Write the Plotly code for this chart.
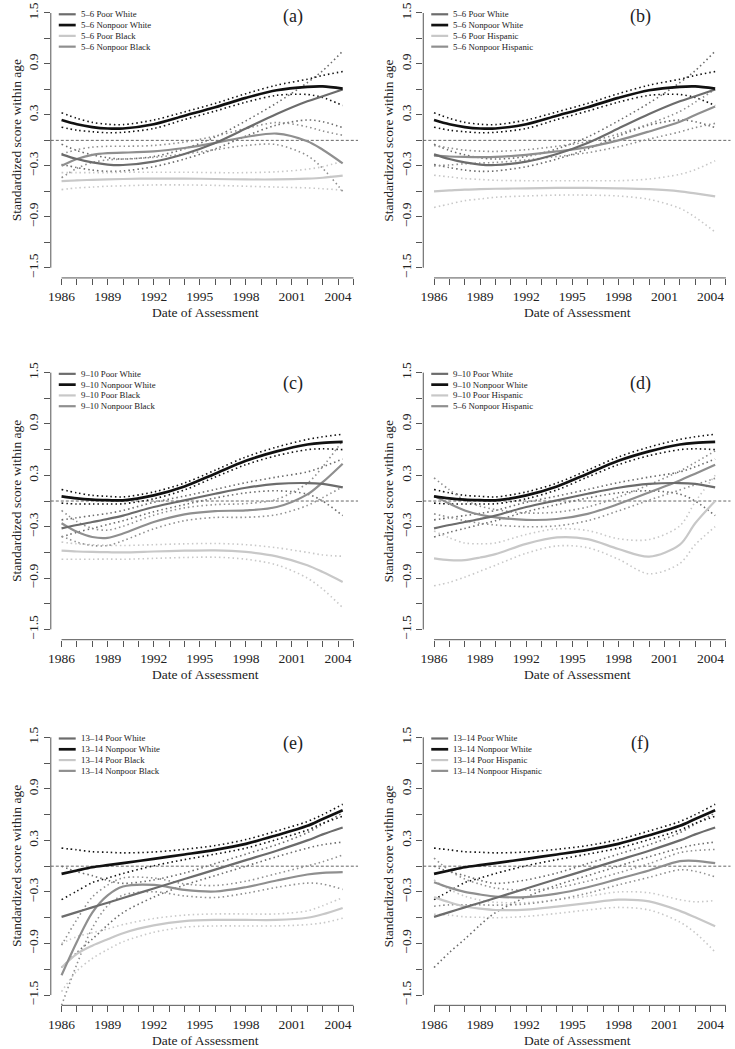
import plotly.graph_objects as go

# ---------------- data ----------------
YEARS = [1986, 1987, 1988, 1989, 1990, 1992, 1994, 1996, 1998, 2000, 2002, 2003, 2004.3]

# Ages 5-6
pw_56 = [-0.165, -0.22, -0.26, -0.285, -0.29, -0.25, -0.16, -0.03, 0.14, 0.31, 0.46, 0.52, 0.60]
pw_56_ci = [0.12, 0.10, 0.09, 0.08, 0.07, 0.06, 0.06, 0.07, 0.09, 0.13, 0.22, 0.30, 0.45]
nw_56 = [0.24, 0.19, 0.157, 0.14, 0.14, 0.19, 0.29, 0.39, 0.50, 0.59, 0.63, 0.635, 0.61]
nw_56_ci = [0.085, 0.07, 0.055, 0.05, 0.045, 0.05, 0.045, 0.045, 0.05, 0.06, 0.09, 0.13, 0.20]
pb_56 = [-0.48, -0.47, -0.465, -0.46, -0.455, -0.45, -0.45, -0.455, -0.46, -0.46, -0.45, -0.44, -0.415]
pb_56_ci = [0.10, 0.09, 0.085, 0.08, 0.08, 0.075, 0.075, 0.075, 0.08, 0.09, 0.11, 0.13, 0.17]
nb_56 = [-0.30, -0.22, -0.17, -0.15, -0.145, -0.13, -0.09, -0.03, 0.04, 0.08, -0.01, -0.11, -0.27]
nb_56_ci = [0.14, 0.11, 0.09, 0.08, 0.075, 0.07, 0.07, 0.08, 0.10, 0.13, 0.17, 0.22, 0.33]
ph_56 = [-0.60, -0.59, -0.58, -0.575, -0.57, -0.565, -0.56, -0.56, -0.565, -0.575, -0.60, -0.625, -0.66]
ph_56_ci = [0.19, 0.16, 0.13, 0.115, 0.10, 0.09, 0.085, 0.085, 0.09, 0.12, 0.20, 0.28, 0.42]
nh_56 = [-0.18, -0.19, -0.195, -0.197, -0.195, -0.17, -0.13, -0.08, 0.0, 0.105, 0.22, 0.30, 0.40]
nh_56_ci = [0.12, 0.10, 0.08, 0.07, 0.065, 0.06, 0.06, 0.065, 0.075, 0.09, 0.12, 0.15, 0.20]

# Ages 9-10
pw_910 = [-0.32, -0.28, -0.245, -0.21, -0.17, -0.07, 0.008, 0.085, 0.155, 0.20, 0.21, 0.20, 0.16]
pw_910_ci = [0.10, 0.085, 0.075, 0.065, 0.06, 0.055, 0.05, 0.05, 0.06, 0.08, 0.13, 0.20, 0.33]
nw_910 = [0.055, 0.03, 0.016, 0.01, 0.008, 0.066, 0.17, 0.32, 0.47, 0.58, 0.66, 0.68, 0.69]
nw_910_ci = [0.08, 0.065, 0.05, 0.045, 0.04, 0.04, 0.04, 0.04, 0.045, 0.05, 0.06, 0.07, 0.09]
pb_910 = [-0.58, -0.59, -0.595, -0.598, -0.60, -0.59, -0.58, -0.576, -0.595, -0.646, -0.75, -0.83, -0.945]
pb_910_ci = [0.10, 0.09, 0.085, 0.08, 0.08, 0.08, 0.08, 0.08, 0.085, 0.10, 0.15, 0.20, 0.30]
nb_910 = [-0.26, -0.36, -0.42, -0.43, -0.38, -0.245, -0.155, -0.117, -0.11, -0.07, 0.078, 0.22, 0.436]
nb_910_ci = [0.15, 0.12, 0.10, 0.09, 0.085, 0.08, 0.075, 0.075, 0.08, 0.09, 0.13, 0.18, 0.27]
ph_910 = [-0.67, -0.69, -0.69, -0.66, -0.62, -0.50, -0.425, -0.445, -0.56, -0.65, -0.51, -0.26, 0.0]
ph_910_ci = [0.32, 0.26, 0.20, 0.16, 0.13, 0.11, 0.10, 0.10, 0.12, 0.20, 0.22, 0.25, 0.30]
nh_910 = [0.06, -0.03, -0.11, -0.16, -0.19, -0.22, -0.21, -0.15, -0.035, 0.10, 0.24, 0.32, 0.425]
nh_910_ci = [0.21, 0.16, 0.12, 0.10, 0.09, 0.08, 0.08, 0.08, 0.08, 0.09, 0.11, 0.13, 0.16]

# Ages 13-14
pw_1314 = [-0.59, -0.535, -0.48, -0.425, -0.37, -0.26, -0.15, -0.04, 0.07, 0.18, 0.30, 0.37, 0.45]
pw_1314_ci = [0.59, 0.47, 0.37, 0.26, 0.17, 0.10, 0.07, 0.07, 0.07, 0.07, 0.09, 0.12, 0.17]
nw_1314 = [-0.09, -0.05, -0.012, 0.012, 0.035, 0.085, 0.136, 0.19, 0.26, 0.36, 0.47, 0.55, 0.65]
nw_1314_ci = [0.30, 0.24, 0.18, 0.15, 0.12, 0.08, 0.06, 0.05, 0.05, 0.05, 0.05, 0.05, 0.07]
pb_1314 = [-1.18, -1.02, -0.925, -0.85, -0.78, -0.69, -0.64, -0.626, -0.626, -0.626, -0.60, -0.56, -0.486]
pb_1314_ci = [0.28, 0.20, 0.15, 0.12, 0.10, 0.08, 0.07, 0.07, 0.07, 0.07, 0.08, 0.10, 0.12]
nb_1314 = [-1.27, -0.88, -0.54, -0.34, -0.237, -0.218, -0.276, -0.295, -0.245, -0.167, -0.097, -0.078, -0.07]
nb_1314_ci = [0.35, 0.26, 0.18, 0.12, 0.10, 0.08, 0.07, 0.07, 0.07, 0.08, 0.10, 0.13, 0.20]
ph_1314 = [-0.36, -0.42, -0.47, -0.495, -0.51, -0.505, -0.47, -0.43, -0.39, -0.41, -0.52, -0.595, -0.70]
ph_1314_ci = [0.20, 0.15, 0.12, 0.10, 0.09, 0.08, 0.08, 0.08, 0.09, 0.10, 0.13, 0.18, 0.30]
nh_1314 = [-0.186, -0.25, -0.30, -0.33, -0.354, -0.36, -0.32, -0.245, -0.148, -0.05, 0.058, 0.062, 0.035]
nh_1314_ci = [0.28, 0.20, 0.15, 0.12, 0.10, 0.08, 0.07, 0.07, 0.07, 0.08, 0.10, 0.12, 0.16]

PANEL_TAGS = ["(a)", "(b)", "(c)", "(d)", "(e)", "(f)"]
PANEL_LABELS = [
    ["5–6 Poor White", "5–6 Nonpoor White", "5–6 Poor Black", "5–6 Nonpoor Black"],
    ["5–6 Poor White", "5–6 Nonpoor White", "5–6 Poor Hispanic", "5–6 Nonpoor Hispanic"],
    ["9–10 Poor White", "9–10 Nonpoor White", "9–10 Poor Black", "9–10 Nonpoor Black"],
    ["9–10 Poor White", "9–10 Nonpoor White", "9–10 Poor Hispanic", "5–6 Nonpoor Hispanic"],
    ["13–14 Poor White", "13–14 Nonpoor White", "13–14 Poor Black", "13–14 Nonpoor Black"],
    ["13–14 Poor White", "13–14 Nonpoor White", "13–14 Poor Hispanic", "13–14 Nonpoor Hispanic"],
]
PANEL_SERIES = [
    [(pw_56, pw_56_ci), (nw_56, nw_56_ci), (pb_56, pb_56_ci), (nb_56, nb_56_ci)],
    [(pw_56, pw_56_ci), (nw_56, nw_56_ci), (ph_56, ph_56_ci), (nh_56, nh_56_ci)],
    [(pw_910, pw_910_ci), (nw_910, nw_910_ci), (pb_910, pb_910_ci), (nb_910, nb_910_ci)],
    [(pw_910, pw_910_ci), (nw_910, nw_910_ci), (ph_910, ph_910_ci), (nh_910, nh_910_ci)],
    [(pw_1314, pw_1314_ci), (nw_1314, nw_1314_ci), (pb_1314, pb_1314_ci), (nb_1314, nb_1314_ci)],
    [(pw_1314, pw_1314_ci), (nw_1314, nw_1314_ci), (ph_1314, ph_1314_ci), (nh_1314, nh_1314_ci)],
]

X_TICKS = [1986, 1987, 1988, 1989, 1990, 1991, 1992, 1993, 1994, 1995,
           1996, 1997, 1998, 1999, 2000, 2001, 2002, 2003, 2004, 2005]
X_LABELS = ["1986", "", "", "1989", "", "", "1992", "", "", "1995",
            "", "", "1998", "", "", "2001", "", "", "2004", ""]
Y_TICKS = [-1.5, -1.2, -0.9, -0.6, -0.3, 0.0, 0.3, 0.6, 0.9, 1.2, 1.5]
Y_LABELS = ["−1.5", "", "−0.9", "", "−0.3", "", "0.3", "", "0.9", "", "1.5"]

# ---------------- styling / layout ----------------
W, H = 735, 1049
FONT = "Liberation Serif"
TXT = "#222222"
AX = "#555555"
COLORS = ["#6c6c6c", "#111111", "#c8c8c8", "#8f8f8f"]
WIDTHS = [2.2, 2.7, 2.2, 2.2]
DOT = "1.5px,3px"

ROWS = [(1.8, 277.2), (361.7, 639.3), (726.7, 1005.3)]   # plot-area top/bottom in px
COLS = [(48.0, 356.5), (422.0, 730.5)]                    # plot-area left/right in px
X_RANGE = [1985.3, 2005.3]
Y_RANGE = [-1.62, 1.62]
TAG_X = [291, 640]
TAG_Y = [16, 383, 743]


def px(p):
    return p / W


def py(p):
    return 1 - p / H


fig = go.Figure()
layout = dict(
    width=W, height=H, margin=dict(l=0, r=0, t=0, b=0),
    paper_bgcolor="white", plot_bgcolor="white", showlegend=False,
    font=dict(family=FONT, color=TXT),
)
shapes = []
annotations = []

for k in range(6):
    r, c = divmod(k, 2)
    top, bot = ROWS[r]
    left, right = COLS[c]
    xa = "x" if k == 0 else f"x{k+1}"
    ya = "y" if k == 0 else f"y{k+1}"
    xkey = "xaxis" if k == 0 else f"xaxis{k+1}"
    ykey = "yaxis" if k == 0 else f"yaxis{k+1}"

    layout[xkey] = dict(
        domain=[px(left), px(right)], range=X_RANGE, anchor=ya,
        showgrid=False, zeroline=False, showline=False, fixedrange=True,
        tickmode="array", tickvals=X_TICKS, ticktext=X_LABELS,
        ticks="outside", ticklen=6, tickwidth=1, tickcolor=AX,
        tickfont=dict(family=FONT, size=13.5, color=TXT), tickangle=0,
    )
    layout[ykey] = dict(
        domain=[py(bot), py(top)], range=Y_RANGE, anchor=xa,
        showgrid=False, zeroline=False, showline=False, fixedrange=True,
        tickmode="array", tickvals=Y_TICKS, ticktext=Y_LABELS,
        ticks="outside", ticklen=6, tickwidth=1, tickcolor=AX,
        tickfont=dict(family=FONT, size=13.5, color=TXT), tickangle=-90,
    )

    # R-style axis lines spanning only the tick range
    shapes.append(dict(type="line", xref=f"{xa} domain", yref=ya, x0=0, x1=0,
                       y0=Y_TICKS[0], y1=Y_TICKS[-1], line=dict(color=AX, width=1)))
    shapes.append(dict(type="line", xref=xa, yref=f"{ya} domain", x0=X_TICKS[0], x1=X_TICKS[-1],
                       y0=0, y1=0, line=dict(color=AX, width=1)))
    # dashed reference line at zero
    shapes.append(dict(type="line", xref=f"{xa} domain", yref=ya, x0=0, x1=1, y0=0, y1=0,
                       line=dict(color="#666666", width=1, dash="3px,2px"), layer="below"))

    # series
    for j, (vals, hw) in enumerate(PANEL_SERIES[k]):
        col = COLORS[j]
        up = [v + h for v, h in zip(vals, hw)]
        lo = [v - h for v, h in zip(vals, hw)]
        for band in (up, lo):
            fig.add_trace(go.Scatter(
                x=YEARS, y=band, xaxis=xa, yaxis=ya, mode="lines",
                line=dict(color=col, width=1.6, dash=DOT, shape="spline", smoothing=0.9),
                hoverinfo="skip"))
    for j in [2, 3, 0, 1]:
        vals, hw = PANEL_SERIES[k][j]
        fig.add_trace(go.Scatter(
            x=YEARS, y=vals, xaxis=xa, yaxis=ya, mode="lines",
            name=PANEL_LABELS[k][j],
            line=dict(color=COLORS[j], width=WIDTHS[j], shape="spline", smoothing=0.9)))

    # manual R-style legend
    for j, lab in enumerate(PANEL_LABELS[k]):
        yy = top + 11.5 + j * 10.8
        shapes.append(dict(type="line", xref="paper", yref="paper",
                           x0=px(left + 8), x1=px(left + 25), y0=py(yy), y1=py(yy),
                           line=dict(color=COLORS[j], width=WIDTHS[j])))
        annotations.append(dict(xref="paper", yref="paper", x=px(left + 28), y=py(yy),
                                text=lab, showarrow=False, xanchor="left", yanchor="middle",
                                font=dict(family=FONT, size=8.8, color=TXT)))

    # panel tag
    annotations.append(dict(xref="paper", yref="paper", x=px(TAG_X[c]), y=py(TAG_Y[r]),
                            text=PANEL_TAGS[k], showarrow=False, xanchor="center", yanchor="middle",
                            font=dict(family=FONT, size=18, color=TXT)))
    # axis titles
    annotations.append(dict(xref="paper", yref="paper", x=px(left + 155), y=py(bot + 35),
                            text="Date of Assessment", showarrow=False,
                            xanchor="center", yanchor="middle",
                            font=dict(family=FONT, size=13.5, color=TXT)))
    annotations.append(dict(xref="paper", yref="paper", x=px(left - 35), y=py((top + bot) / 2),
                            text="Standardized score within age", showarrow=False, textangle=-90,
                            xanchor="center", yanchor="middle",
                            font=dict(family=FONT, size=13.5, color=TXT)))

layout["shapes"] = shapes
layout["annotations"] = annotations
fig.update_layout(**layout)
fig.write_html(
    "out.html",
    config={"displayModeBar": False, "staticPlot": True},
    post_script="document.body.style.margin='0px';document.body.style.padding='0px';",
)
